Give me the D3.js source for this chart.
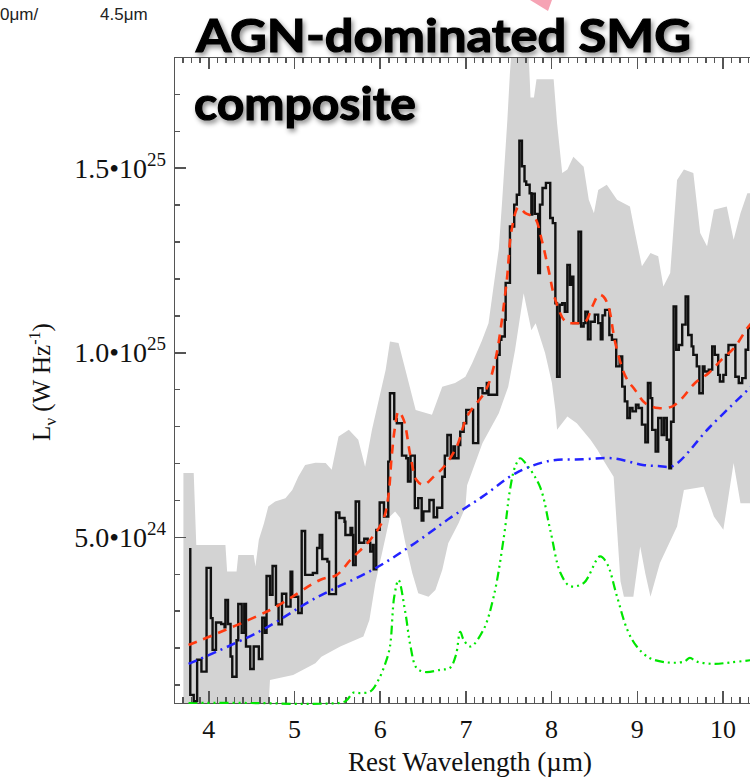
<!DOCTYPE html>
<html>
<head>
<meta charset="utf-8">
<script src="https://cdn.jsdelivr.net/npm/d3@7"></script>
<style>
body { margin: 0; background: #fff; }
svg { display: block; }
.axis path, .axis line { stroke: #555; stroke-width: 1.5; shape-rendering: crispEdges; }
.serif { font-family: "Liberation Serif", "Times New Roman", serif; fill: #111; }
</style>
</head>
<body>
<svg width="750" height="777"></svg>
<script>
// observed composite spectrum (step plot), units of 1e24 W/Hz
var obsLam = [3.79,3.79,3.83,3.87,3.92,3.98,4.03,4.05,4.09,4.15,4.19,4.20,4.23,4.26,4.28,4.33,4.35,4.39,4.42,4.44,
  4.49,4.53,4.59,4.63,4.66,4.68,4.72,4.75,4.79,4.82,4.86,4.91,4.96,4.98,5.05,5.09,5.13,5.22,5.27,5.30,
  5.33,5.39,5.41,5.49,5.53,5.59,5.60,5.66,5.68,5.69,5.72,5.76,5.82,5.86,5.89,5.92,5.93,5.96,6.00,6.05,
  6.10,6.12,6.17,6.20,6.26,6.31,6.33,6.36,6.41,6.45,6.49,6.51,6.58,6.63,6.67,6.73,6.76,6.79,6.83,6.86,
  6.88,6.92,6.94,6.98,7.01,7.09,7.15,7.20,7.25,7.27,7.37,7.40,7.42,7.46,7.47,7.52,7.57,7.60,7.63,7.66,
  7.69,7.71,7.75,7.77,7.78,7.81,7.85,7.87,7.90,7.94,7.99,8.02,8.05,8.07,8.10,8.13,8.16,8.19,8.22,8.24,
  8.26,8.32,8.35,8.38,8.40,8.43,8.46,8.51,8.55,8.58,8.60,8.63,8.68,8.71,8.76,8.80,8.83,8.86,8.89,8.92,
  8.95,8.99,9.02,9.06,9.10,9.13,9.16,9.18,9.22,9.25,9.29,9.32,9.35,9.38,9.40,9.43,9.46,9.49,9.53,9.57,
  9.60,9.64,9.66,9.70,9.73,9.77,9.79,9.84,9.88,9.91,9.95,9.97,10.01,10.04,10.07,10.15,10.19,10.23,10.27,10.30,10.40];
var obsVal = [4.7,0.72,0.55,1.67,1.35,4.16,2.8,1.94,2.68,2.64,2.55,3.29,2.64,1.76,1.21,2.2,3.18,2.4,3.18,2.03,
  1.42,2.03,1.69,2.81,2.4,3.94,3.43,4.21,3.16,2.63,3.46,3.11,4.06,3.38,2.94,5.16,3.97,4.02,4.7,5.05,
  4.4,4.33,3.45,5.66,5.51,5.41,5.05,5.24,5.05,4.24,5.96,4.84,4.95,4.84,4.6,4.78,4.12,5.19,5.93,5.55,
  7.04,8.89,8.19,8.08,7.2,7.13,6.5,7.2,5.78,6.05,5.44,5.69,6.0,5.53,5.79,6.63,7.2,7.76,7.13,7.45,
  7.13,7.49,7.85,8.08,8.44,7.54,9.03,8.89,9.17,8.85,9.93,10.34,10.43,10.88,11.88,13.41,14.0,14.27,15.73,15.04,
  14.63,14.54,14.31,13.73,14.3,13.75,12.15,14.0,14.45,14.59,13.64,13.5,11.33,9.34,11.29,11.33,11.1,12.37,11.83,12.05,
  10.79,13.27,10.7,10.79,11.1,10.35,10.83,11.02,10.79,10.35,11.0,11.15,10.47,10.34,9.62,9.89,9.07,8.67,8.22,8.49,
  8.4,8.58,8.49,8.04,7.56,9.17,8.76,7.9,7.31,8.22,7.76,8.22,7.63,6.86,8.12,11.24,10.07,10.2,10.75,11.51,
  10.47,10.16,9.93,9.62,8.89,9.62,9.48,9.53,10.16,9.93,9.39,9.21,9.39,9.93,10.2,9.34,9.17,9.3,10.07,10.66,10.66];

// grey uncertainty band
var bandHiLam = [3.71,3.83,3.86,4.20,4.22,4.33,4.35,4.53,4.55,4.59,4.65,4.70,4.78,4.90,4.98,5.05,5.13,5.25,5.37,5.44,
  5.52,5.64,5.75,5.83,5.91,6.07,6.12,6.22,6.30,6.42,6.61,6.73,6.88,7.00,7.08,7.19,7.27,7.33,7.39,7.43,
  7.49,7.52,7.55,7.73,7.76,7.80,7.83,8.03,8.07,8.13,8.19,8.26,8.38,8.44,8.50,8.55,8.65,8.77,8.92,8.98,
  9.06,9.16,9.25,9.31,9.39,9.47,9.55,9.66,9.74,9.82,9.90,10.05,10.13,10.21,10.29,10.40];
var bandHi = [6.73,6.73,4.78,4.78,4.06,4.06,4.51,4.51,4.2,4.92,5.37,5.82,5.96,6.05,6.27,6.63,6.95,7.01,7.0,6.82,
  7.72,7.9,7.63,6.9,7.9,9.53,10.29,10.25,9.53,8.44,8.31,9.07,9.17,9.34,9.71,10.3,10.79,11.8,12.8,14.13,
  16.3,17.57,18.5,18.5,16.9,16.9,17.4,17.4,16.2,14.86,14.95,15.3,15.03,14.13,13.77,14.4,14.54,14.13,13.95,13.23,
  12.33,12.69,12.6,11.78,12.15,14.67,14.95,14.86,13.23,12.87,13.86,13.95,13.05,13.77,14.31,14.31];
var bandLoLam = [3.71,4.70,4.72,4.99,5.25,5.32,5.54,5.81,5.88,5.95,6.07,6.12,6.18,6.24,6.30,6.38,6.45,6.57,6.65,6.73,
  6.80,6.92,7.00,7.02,7.20,7.39,7.50,7.58,7.68,7.77,7.82,7.93,8.01,8.05,8.07,8.19,8.30,8.46,8.54,8.63,
  8.73,8.77,8.81,8.85,8.96,9.04,9.10,9.16,9.27,9.47,9.55,9.78,9.90,10.01,10.13,10.21,10.40];
var bandLo = [0.3,0.3,1.12,1.26,1.58,1.75,2.03,2.3,2.75,3.75,5.01,5.55,5.69,5.51,4.83,4.02,3.47,3.38,3.56,4.1,
  4.83,5.37,5.8,6.4,7.54,8.35,9.07,10.07,11.6,10.6,10.79,9.98,9.17,8.44,7.9,8.26,8.08,7.63,7.36,7.0,
  6.63,5.19,3.8,3.38,3.38,4.74,4.0,3.38,4.29,5.28,6.27,6.36,5.55,5.19,7.0,5.91,5.91];

// total model fit (red dashed)
var fitLam = [3.77,4.72,5.31,5.50,5.66,5.89,6.04,6.10,6.14,6.18,6.22,6.28,6.36,6.43,6.51,6.63,6.75,6.90,7.02,7.24,
  7.35,7.48,7.54,7.62,7.70,7.81,7.89,7.97,8.05,8.17,8.28,8.40,8.48,8.56,8.61,8.67,8.75,8.87,8.98,9.10,
  9.25,9.41,9.53,9.68,9.84,9.99,10.15,10.29,10.40];
var fitVal = [2.07,3.02,3.84,3.97,4.38,4.92,5.46,6.08,7.18,7.99,8.4,8.17,7.18,6.54,6.41,6.63,6.9,7.45,8.26,8.98,
  9.8,11.88,13.32,13.93,13.77,13.64,13.05,12.24,11.42,10.83,10.79,10.83,11.24,11.56,11.51,11.24,10.25,9.34,8.98,8.62,
  8.49,8.53,8.76,9.17,9.44,9.8,10.16,10.66,10.95];

// continuum (blue dash-dot)
var contLam = [3.77,4.59,5.25,5.95,6.41,6.82,7.20,7.59,7.98,8.37,8.72,9.07,9.25,9.42,9.85,10.32,10.40];
var contVal = [1.56,2.43,3.34,4.15,4.83,5.51,6.09,6.73,7.06,7.10,7.13,6.95,6.92,6.92,7.97,9.04,9.22];

// PAH component (green dash-dot-dot-dot)
var pahLam = [3.77,4.50,5.30,5.60,5.69,5.77,5.89,5.98,6.07,6.12,6.17,6.22,6.30,6.36,6.43,6.53,6.71,6.82,6.89,6.94,
  6.98,7.06,7.21,7.33,7.45,7.52,7.58,7.64,7.70,7.87,7.99,8.11,8.22,8.38,8.57,8.65,8.77,8.89,9.00,9.15,
  9.35,9.55,9.62,9.70,9.90,10.10,10.40];
var pahVal = [0.5,0.5,0.48,0.55,0.78,0.77,0.81,1.1,1.6,2.03,3.38,3.83,2.94,2.03,1.45,1.34,1.4,1.45,1.8,2.43,
  2.21,2.03,2.48,3.38,5.01,6.27,6.9,7.13,7.0,6.36,5.19,4.02,3.67,3.75,4.47,4.29,3.38,2.48,2.03,1.72,
  1.6,1.62,1.72,1.62,1.56,1.6,1.68];

var xTicks = [4, 5, 6, 7, 8, 9, 10];
var yTicks = [5, 10, 15];
var yTickMant = ["5.0\u202210", "1.0\u202210", "1.5\u202210"];
var yTickExp = ["24", "25", "25"];

var svg = d3.select("svg"),
    plotLeft = 174, plotTop = 57, plotBottom = 703;

var x = d3.scaleLinear().domain([3.6, 11]).range([plotLeft, plotLeft + 7.4 * 85.7]);
var y = d3.scaleLinear().domain([0.5, 18]).range([plotBottom, plotTop]);

var defs = svg.append("defs");
defs.append("clipPath").attr("id", "plotclip")
  .append("rect").attr("x", plotLeft).attr("y", plotTop).attr("width", 700).attr("height", plotBottom - plotTop);
var shadow = defs.append("filter").attr("id", "shadow")
  .attr("x", "-10%").attr("y", "-30%").attr("width", "120%").attr("height", "160%");
shadow.append("feDropShadow").attr("dx", 2).attr("dy", 3).attr("stdDeviation", 2.5)
  .attr("flood-color", "#000").attr("flood-opacity", 0.45);

// band
var bandPts = bandHiLam.map(function(d, i) { return [x(d), y(bandHi[i])]; })
  .concat(bandLoLam.map(function(d, i) { return [x(d), y(bandLo[i])]; }).reverse());
svg.append("path")
  .attr("clip-path", "url(#plotclip)")
  .attr("d", d3.line()(bandPts) + "Z")
  .attr("fill", "#d3d3d3");

// axes
var minorX = d3.range(36, 111).map(function(d) { return d / 10; });
var minorY = d3.range(1, 18);

svg.append("g").attr("class", "axis")
  .attr("transform", "translate(0," + plotBottom + ")")
  .call(d3.axisBottom(x).tickValues(minorX).tickSize(-6).tickSizeOuter(0).tickFormat(""));
var xAxis = svg.append("g").attr("class", "axis")
  .attr("transform", "translate(0," + plotBottom + ")")
  .call(d3.axisBottom(x).tickValues(xTicks).tickSize(-12).tickSizeOuter(0).tickPadding(17).tickFormat(d3.format("d")));
xAxis.selectAll("text").attr("class", "serif").attr("font-size", 26);

svg.append("g").attr("class", "axis")
  .attr("transform", "translate(0," + plotTop + ")")
  .call(d3.axisTop(x).tickValues(minorX).tickSize(-6).tickSizeOuter(0).tickFormat(""));
svg.append("g").attr("class", "axis")
  .attr("transform", "translate(0," + plotTop + ")")
  .call(d3.axisTop(x).tickValues(xTicks).tickSize(-12).tickSizeOuter(0).tickFormat(""));

svg.append("g").attr("class", "axis")
  .attr("transform", "translate(" + plotLeft + ",0)")
  .call(d3.axisLeft(y).tickValues(minorY).tickSize(-6).tickSizeOuter(0).tickFormat(""));
svg.append("g").attr("class", "axis")
  .attr("transform", "translate(" + plotLeft + ",0)")
  .call(d3.axisLeft(y).tickValues(yTicks).tickSize(-12).tickSizeOuter(0).tickFormat(""));

var yl = svg.append("g").selectAll("text")
  .data(yTicks).enter().append("text")
  .attr("class", "serif")
  .attr("text-anchor", "end")
  .attr("x", 166)
  .attr("y", function(d) { return y(d) + 10; })
  .attr("font-size", 28);
yl.append("tspan").text(function(d, i) { return yTickMant[i]; });
yl.append("tspan").attr("dy", -12).attr("font-size", 19).text(function(d, i) { return yTickExp[i]; });

svg.append("text").attr("class", "serif")
  .attr("x", 470).attr("y", 771)
  .attr("text-anchor", "middle")
  .attr("font-size", 27)
  .text("Rest Wavelength (\u00b5m)");

var yt = svg.append("text").attr("class", "serif")
  .attr("transform", "translate(50,382) rotate(-90)")
  .attr("text-anchor", "middle")
  .attr("font-size", 25);
yt.append("tspan").text("L");
yt.append("tspan").attr("dy", 6).attr("font-size", 17).text("\u03bd");
yt.append("tspan").attr("dy", -6).text(" (W Hz");
yt.append("tspan").attr("dy", -10).attr("font-size", 16).text("-1");
yt.append("tspan").attr("dy", 10).text(")");

// curves
var smooth = d3.line()
  .x(function(d) { return x(d[0]); })
  .y(function(d) { return y(d[1]); })
  .curve(d3.curveCatmullRom.alpha(0.5));
var steps = d3.line()
  .x(function(d) { return x(d[0]); })
  .y(function(d) { return y(d[1]); })
  .curve(d3.curveStepAfter);

function pairs(a, b) { return a.map(function(d, i) { return [d, b[i]]; }); }

svg.append("path")
  .attr("d", smooth(pairs(pahLam, pahVal)))
  .attr("fill", "none").attr("stroke", "#00e600").attr("stroke-width", 2.2)
  .attr("stroke-dasharray", "9,4,2,4,2,4,2,4");

svg.append("path")
  .attr("d", steps(pairs(obsLam, obsVal)))
  .attr("fill", "none").attr("stroke", "#111").attr("stroke-width", 2.4)
  .attr("stroke-linejoin", "miter");

svg.append("path")
  .attr("d", smooth(pairs(contLam, contVal)))
  .attr("fill", "none").attr("stroke", "#2323ff").attr("stroke-width", 2.5)
  .attr("stroke-dasharray", "9,5,2,5");

svg.append("path")
  .attr("d", smooth(pairs(fitLam, fitVal)))
  .attr("fill", "none").attr("stroke", "#ff3a10").attr("stroke-width", 2.6)
  .attr("stroke-dasharray", "9,7");

// slide annotations
svg.append("text")
  .attr("x", 196).attr("y", 52)
  .attr("font-family", "'Comic Sans MS', Lato, 'DejaVu Sans', sans-serif")
  .attr("font-weight", "bold").attr("font-size", 46)
  .attr("stroke", "#000").attr("stroke-width", 1.2)
  .attr("textLength", 495).attr("lengthAdjust", "spacingAndGlyphs")
  .attr("filter", "url(#shadow)")
  .text("AGN-dominated SMG");
svg.append("text")
  .attr("x", 194).attr("y", 120)
  .attr("font-family", "'Comic Sans MS', Lato, 'DejaVu Sans', sans-serif")
  .attr("font-weight", "bold").attr("font-size", 46)
  .attr("stroke", "#000").attr("stroke-width", 1.2)
  .attr("textLength", 222).attr("lengthAdjust", "spacingAndGlyphs")
  .attr("filter", "url(#shadow)")
  .text("composite");

svg.append("text")
  .attr("x", 0).attr("y", 20)
  .attr("font-family", "'Liberation Sans', Arial, sans-serif")
  .attr("font-size", 17).attr("fill", "#222")
  .text("0\u03bcm/");
svg.append("text")
  .attr("x", 100).attr("y", 20)
  .attr("font-family", "'Liberation Sans', Arial, sans-serif")
  .attr("font-size", 17).attr("fill", "#222")
  .text("4.5\u03bcm");

svg.append("path")
  .attr("d", "M530,0L552,0L548,11Z")
  .attr("fill", "#f6a3b4");
</script>
</body>
</html>
